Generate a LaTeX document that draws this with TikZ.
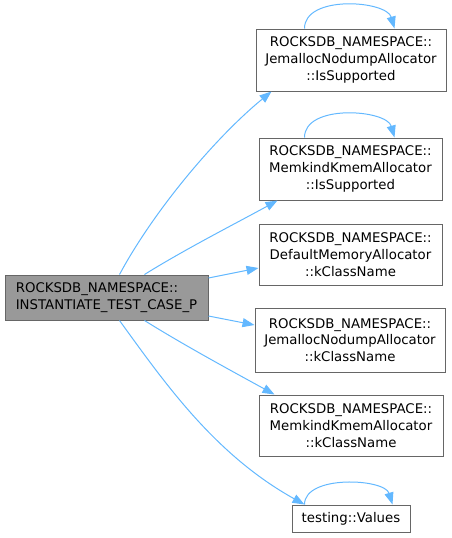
\documentclass[tikz,border=0pt]{standalone}
\usepackage{fontspec}
\setmainfont{DejaVu Sans}
\usetikzlibrary{arrows.meta}
\definecolor{callblue}{HTML}{63B8FF}
\tikzset{
  fnode/.style={draw=black!60, fill=white, line width=1pt, inner sep=0pt,
    align=center, font=\fontsize{13.3}{16.7}\selectfont},
  rootnode/.style={fnode, fill=black!40, align=left},
  calls/.style={callblue, line width=1pt, -{Triangle[length=12pt,width=9pt]}},
}
\begin{document}
\begin{tikzpicture}[x=1pt, y=-1pt]
  \useasboundingbox (0,0) rectangle (451,538);
  % caller
  \node[rootnode, minimum width=203pt, minimum height=45pt] (root) at (106.5,297.5)
       {ROCKSDB\_NAMESPACE::\\INSTANTIATE\_TEST\_CASE\_P};
  % callees
  \node[fnode, minimum width=190pt, minimum height=62pt] (jemSup) at (351,60)
       {ROCKSDB\_NAMESPACE::\\JemallocNodumpAllocator\\::IsSupported};
  \node[fnode, minimum width=183pt, minimum height=62pt] (memSup) at (350.5,169)
       {ROCKSDB\_NAMESPACE::\\MemkindKmemAllocator\\::IsSupported};
  \node[fnode, minimum width=183pt, minimum height=61pt] (defName) at (350.5,254.5)
       {ROCKSDB\_NAMESPACE::\\DefaultMemoryAllocator\\::kClassName};
  \node[fnode, minimum width=190pt, minimum height=64pt] (jemName) at (350,340)
       {ROCKSDB\_NAMESPACE::\\JemallocNodumpAllocator\\::kClassName};
  \node[fnode, minimum width=184pt, minimum height=61pt] (memName) at (351,425.5)
       {ROCKSDB\_NAMESPACE::\\MemkindKmemAllocator\\::kClassName};
  \node[fnode, minimum width=118pt, minimum height=27pt] (values) at (351,518.5)
       {testing::Values};
  % calls from the caller
  \draw[calls] ([xshift=115pt]root.north west)
       .. controls +(35,-65) and +(-55,45) .. ([xshift=16pt]jemSup.south west);
  \draw[calls] ([xshift=140pt]root.north west)
       .. controls +(40,-25) and +(-40,22) .. ([xshift=19pt]memSup.south west);
  \draw[calls] ([yshift=19.5pt]root.east) -- ([yshift=-13.5pt]defName.west);
  \draw[calls] ([yshift=-18.5pt]root.east) -- ([yshift=15pt]jemName.west);
  \draw[calls] ([xshift=140pt]root.south west)
       .. controls +(40,25) and +(-40,-22) .. ([xshift=16pt]memName.north west);
  \draw[calls] ([xshift=115pt]root.south west)
       .. controls +(45,62) and +(-90,-50) .. ([xshift=13pt]values.north west);
  % recursive calls
  \draw[calls] ([xshift=49pt]jemSup.north west)
       .. controls +(0,-34) and +(-8,-28) .. ([xshift=139pt]jemSup.north west);
  \draw[calls] ([xshift=46pt]memSup.north west)
       .. controls +(0,-34) and +(-8,-28) .. ([xshift=136pt]memSup.north west);
  \draw[calls] ([xshift=13pt]values.north west)
       .. controls +(0,-30) and +(-8,-26) .. ([xshift=101pt]values.north west);
\end{tikzpicture}
\end{document}
